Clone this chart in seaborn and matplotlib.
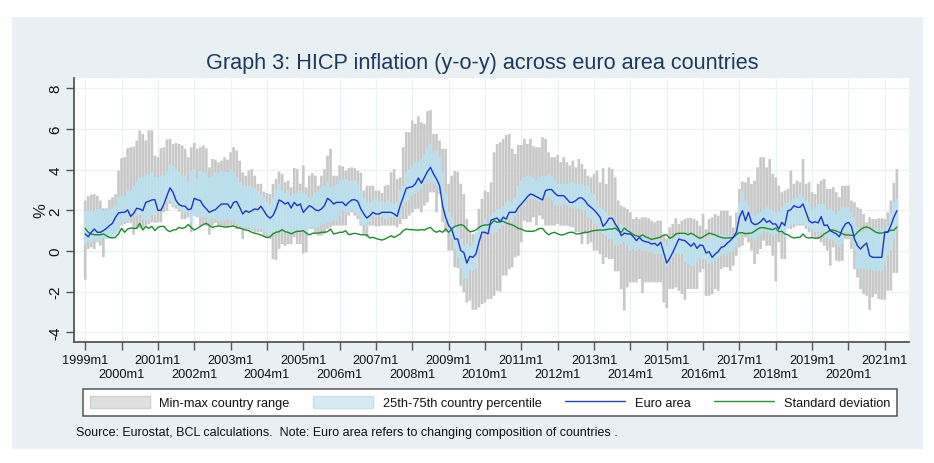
import matplotlib

matplotlib.use("Agg")
import matplotlib.pyplot as plt
import numpy as np
import pandas as pd
import seaborn as sns
from matplotlib.patches import Patch, Rectangle
from matplotlib.lines import Line2D

# monthly values 1999m1 - 2021m5
range_max = [
    2.48, 2.69, 2.77, 2.79, 2.72, 2.48, 2.10, 2.10, 2.52, 2.64, 2.80, 3.95,
    4.56, 4.61, 5.05, 5.10, 5.13, 5.43, 5.92, 5.75, 5.43, 5.93, 5.93, 4.69,
    4.61, 5.05, 5.10, 5.48, 5.51, 5.26, 5.31, 5.26, 5.18, 5.02, 4.61, 5.10,
    5.31, 5.02, 5.10, 5.18, 5.05, 4.11, 4.52, 4.49, 4.36, 4.44, 4.61, 4.49,
    4.85, 5.10, 4.93, 4.44, 3.87, 3.70, 3.95, 4.03, 3.70, 3.30, 3.30, 2.92,
    2.85, 2.80, 3.30, 3.54, 3.90, 3.79, 3.38, 3.46, 3.13, 4.08, 4.03, 3.30,
    4.20, 3.13, 3.70, 3.82, 3.70, 3.21, 3.70, 4.03, 4.69, 5.02, 3.70, 3.70,
    4.20, 4.16, 3.95, 4.07, 4.11, 4.07, 3.95, 3.84, 2.97, 3.21, 3.21, 3.21,
    2.97, 2.97, 2.85, 3.21, 3.25, 3.87, 4.03, 3.54, 3.62, 5.10, 5.84, 5.84,
    6.41, 6.25, 6.62, 6.33, 6.25, 6.87, 6.92, 5.75, 5.75, 5.43, 5.02, 5.02,
    3.30, 3.70, 3.93, 3.90, 3.30, 2.80, 1.57, 0.92, 0.84, 0.75, 2.07, 2.56,
    2.97, 2.89, 3.38, 4.85, 5.26, 5.34, 5.51, 5.70, 5.75, 5.02, 4.77, 5.21,
    5.21, 5.51, 5.26, 5.51, 5.15, 5.10, 5.10, 5.59, 5.51, 4.85, 4.61, 4.61,
    4.72, 4.36, 4.61, 4.36, 4.20, 4.44, 4.11, 4.52, 4.28, 4.03, 3.70, 3.62,
    3.79, 3.95, 3.38, 4.07, 3.30, 4.11, 4.03, 3.62, 2.48, 2.23, 2.15, 2.07,
    1.90, 1.57, 1.66, 1.57, 1.66, 1.66, 1.61, 1.49, 1.41, 1.49, 1.49, 0.75,
    0.59, 1.16, 1.33, 1.61, 1.33, 1.49, 1.57, 1.62, 1.62, 1.57, 1.49, 1.25,
    1.82, 1.08, 1.57, 1.66, 1.82, 1.74, 1.98, 1.98, 1.98, 1.74, 1.16, 1.90,
    3.05, 3.41, 3.38, 3.62, 3.30, 3.46, 4.11, 4.61, 4.61, 4.11, 4.52, 3.79,
    3.62, 3.21, 2.89, 2.97, 3.05, 3.95, 3.30, 3.46, 3.38, 4.52, 3.30, 3.38,
    2.89, 2.80, 3.30, 3.46, 3.54, 3.05, 3.05, 3.13, 2.89, 2.64, 3.21, 3.21,
    3.21, 2.48, 2.39, 2.15, 2.07, 1.82, 1.41, 1.66, 1.57, 1.57, 1.61, 1.61,
    1.57, 1.90, 2.48, 3.34, 4.03,
]
range_min = [
    -1.41, 0.10, 0.18, 0.10, 0.43, 0.26, -0.31, 0.75, 0.92, 0.67, 0.84, 1.08,
    1.25, 1.33, 1.38, 1.38, 0.80, 1.11, 1.11, 1.16, 1.25, 1.33, 1.41, 1.38,
    1.41, 1.41, 1.90, 1.98, 2.31, 2.15, 2.07, 1.93, 1.57, 1.57, 1.66, 0.92,
    1.74, 1.66, 1.25, 1.33, 1.25, 0.80, 1.25, 1.38, 1.25, 1.25, 1.21, 1.16,
    1.25, 1.25, 1.08, 1.08, 0.59, 1.08, 1.05, 1.00, 0.92, 0.92, 0.92, 0.75,
    0.67, 0.59, -0.39, -0.43, 0.10, 0.34, 0.26, 0.34, 0.34, 0.67, 0.34, 0.34,
    -0.12, -0.07, 1.08, 1.08, 0.84, 0.75, 0.75, 0.84, 1.08, 1.16, 1.25, 1.25,
    1.25, 1.25, 1.25, 1.74, 1.90, 1.74, 1.57, 1.25, 0.84, 0.67, 1.25, 1.25,
    1.21, 1.21, 1.25, 1.25, 1.25, 1.25, 1.25, 1.16, 1.33, 1.57, 1.57, 1.74,
    1.90, 2.07, 2.07, 1.90, 2.23, 2.39, 2.88, 2.88, 1.90, 2.80, 1.41, 0.92,
    0.02, 0.02, -0.80, -0.84, -1.71, -2.03, -2.53, -2.44, -2.89, -2.89, -2.77, -2.61,
    -2.53, -2.36, -2.36, -2.20, -1.95, -2.00, -1.21, -1.21, -0.89, -0.80, -0.31, -0.23,
    0.43, 1.49, 1.41, 1.41, 1.66, 1.25, 1.74, 1.57, 1.25, 1.25, 1.25, 1.25,
    1.33, 1.25, 1.25, 1.25, 1.21, 1.16, 0.92, 0.92, 0.34, 0.84, 0.34, 0.43,
    0.02, 0.02, -0.15, -0.64, -0.31, -0.39, -0.39, -1.00, -1.00, -1.87, -2.93, -1.79,
    -1.54, -1.54, -1.54, -1.38, -2.07, -1.54, -1.54, -1.54, -1.54, -1.54, -1.54, -2.53,
    -2.80, -1.87, -1.87, -1.79, -1.95, -2.12, -2.39, -1.87, -1.87, -1.87, -1.87, -1.05,
    -0.89, -2.20, -2.20, -2.12, -1.87, -1.95, -0.89, -0.80, -0.80, -0.97, -0.72, -0.23,
    0.18, 0.26, 0.67, 0.43, 0.02, -0.64, -0.15, 0.10, 0.51, 0.26, 0.26, -0.23,
    -1.49, 0.43, -0.39, -0.39, 1.57, 1.08, 1.16, 1.25, 1.25, 1.25, 1.08, 0.92,
    0.67, 0.59, 0.59, 0.43, 0.26, 0.02, -0.72, 0.18, -0.48, -0.51, -0.48, 0.59,
    0.59, 0.10, -0.89, -1.30, -1.87, -2.12, -2.20, -2.90, -2.28, -2.12, -2.36, -2.39,
    -2.39, -1.95, -1.95, -1.08, -1.08,
]
p75 = [
    1.98, 1.98, 1.98, 1.98, 2.07, 2.07, 1.98, 2.03, 2.07, 2.15, 2.23, 2.64,
    2.72, 2.67, 2.97, 2.97, 3.21, 3.46, 3.62, 3.62, 3.79, 3.79, 3.87, 3.62,
    3.62, 3.70, 3.70, 3.95, 4.28, 4.20, 4.03, 3.87, 3.70, 3.70, 3.38, 3.95,
    4.03, 3.54, 3.95, 3.87, 3.87, 3.62, 3.70, 3.87, 3.87, 3.95, 3.87, 3.87,
    4.03, 3.87, 3.62, 3.38, 3.21, 3.21, 3.21, 3.13, 3.13, 2.97, 2.80, 2.64,
    2.39, 2.31, 2.64, 3.05, 3.30, 2.97, 2.88, 2.97, 2.72, 2.80, 2.88, 2.97,
    2.88, 2.80, 2.64, 2.64, 2.88, 2.97, 3.13, 3.21, 3.38, 3.13, 3.21, 3.30,
    3.46, 3.54, 3.54, 3.46, 3.46, 3.46, 3.30, 2.97, 2.64, 2.39, 2.39, 2.48,
    2.56, 2.48, 2.48, 2.39, 2.48, 2.39, 2.31, 2.39, 2.97, 3.21, 3.87, 4.03,
    4.20, 4.36, 4.36, 4.52, 4.77, 5.10, 5.26, 4.85, 4.93, 4.61, 3.87, 2.88,
    1.90, 1.66, 1.25, 1.16, 0.59, 0.26, 0.34, 0.26, 0.43, 0.92, 1.08, 1.33,
    1.57, 1.25, 1.74, 1.90, 2.07, 2.07, 2.15, 2.39, 2.48, 2.39, 2.64, 3.21,
    3.46, 3.62, 3.70, 3.70, 3.62, 3.46, 3.62, 3.70, 3.70, 3.79, 3.70, 3.46,
    3.30, 3.30, 3.30, 3.30, 3.38, 3.38, 3.30, 3.30, 3.30, 3.21, 3.21, 2.88,
    2.80, 2.48, 2.15, 2.07, 1.90, 1.74, 1.74, 1.25, 1.08, 1.33, 1.25, 1.08,
    0.92, 0.75, 0.67, 0.75, 0.75, 0.75, 0.67, 0.51, 0.59, 0.59, 0.51, 0.43,
    0.26, 0.59, 0.59, 0.75, 0.75, 0.92, 0.84, 0.84, 0.84, 0.75, 0.75, 0.59,
    0.59, 0.59, 0.67, 0.75, 0.75, 0.67, 0.84, 0.75, 0.75, 0.67, 0.67, 1.25,
    2.39, 2.97, 2.48, 2.23, 1.82, 1.74, 1.82, 1.90, 2.07, 2.15, 2.07, 1.98,
    1.90, 1.98, 2.15, 2.39, 2.39, 2.48, 2.56, 2.64, 2.80, 2.64, 2.48, 2.39,
    2.07, 2.15, 2.31, 2.31, 2.31, 2.07, 2.07, 1.98, 1.82, 1.98, 2.15, 2.15,
    2.15, 1.90, 1.66, 1.16, 1.08, 0.92, 1.08, 1.08, 1.08, 1.08, 0.92, 1.08,
    1.00, 1.25, 1.90, 2.39, 2.56,
]
p25 = [
    0.31, 0.43, 0.43, 0.51, 0.46, 0.51, 0.67, 0.59, 0.59, 0.67, 0.75, 0.92,
    1.41, 1.41, 1.41, 1.74, 1.74, 1.74, 1.77, 1.57, 1.49, 1.49, 1.74, 1.74,
    1.98, 2.07, 2.15, 2.39, 2.48, 2.23, 2.23, 2.07, 1.90, 1.90, 1.90, 1.41,
    1.74, 1.74, 1.66, 1.66, 1.66, 1.41, 1.57, 1.57, 1.49, 1.49, 1.49, 1.57,
    1.49, 1.49, 1.33, 1.25, 1.08, 1.16, 1.16, 1.08, 1.08, 1.08, 1.08, 0.92,
    0.84, 0.67, 0.92, 1.00, 1.00, 1.00, 0.92, 0.92, 0.75, 0.92, 0.92, 0.92,
    0.92, 0.84, 1.08, 1.16, 1.08, 1.16, 1.25, 1.33, 1.41, 1.41, 1.49, 1.49,
    1.74, 1.98, 1.90, 1.90, 1.98, 1.90, 1.74, 1.33, 1.25, 1.16, 1.41, 1.74,
    1.66, 1.74, 1.66, 1.57, 1.57, 1.66, 1.66, 1.57, 1.66, 2.23, 2.39, 2.48,
    2.72, 2.80, 2.88, 3.05, 3.30, 3.30, 3.38, 3.30, 3.21, 2.88, 2.07, 1.41,
    0.92, 0.59, 0.10, -0.31, -0.89, -1.38, -1.38, -0.97, -0.97, -0.89, 0.10, 0.75,
    0.84, 0.75, 0.92, 0.92, 0.92, 1.08, 1.25, 1.33, 1.57, 1.41, 1.74, 2.07,
    2.23, 2.23, 2.48, 2.56, 2.56, 2.48, 2.39, 2.56, 2.64, 2.64, 2.48, 2.23,
    2.23, 2.23, 2.31, 2.23, 2.15, 2.15, 2.07, 2.07, 1.98, 1.98, 1.66, 1.57,
    1.33, 1.25, 0.92, 0.84, 0.75, 0.59, 0.59, 0.26, 0.26, 0.34, 0.43, 0.26,
    0.02, 0.10, 0.02, 0.10, 0.02, 0.02, -0.07, -0.07, -0.15, -0.15, -0.15, -0.48,
    -0.72, -0.48, -0.31, -0.15, -0.15, -0.15, -0.56, -0.64, -0.72, -0.72, -0.56, -0.39,
    -0.39, -0.48, -0.64, -0.56, -0.48, -0.39, -0.23, -0.15, -0.15, -0.07, 0.02, 0.26,
    0.67, 0.92, 0.92, 0.84, 0.67, 0.51, 0.67, 0.84, 1.00, 0.92, 0.84, 0.75,
    0.84, 0.92, 0.92, 0.67, 1.08, 1.25, 1.33, 1.33, 1.33, 1.33, 1.25, 1.16,
    1.08, 0.92, 0.92, 0.92, 0.75, 0.67, 0.59, 0.51, 0.34, 0.18, 0.34, 0.92,
    0.92, 0.67, 0.02, -0.89, -0.89, -0.89, -0.97, -0.89, -0.97, -0.97, -0.97, -0.97,
    -0.72, -0.23, 0.02, 0.59, 1.08,
]
euro_area = [
    0.84, 0.70, 0.92, 1.08, 0.92, 0.92, 1.00, 1.11, 1.25, 1.36, 1.66, 1.87,
    1.90, 1.90, 2.02, 1.70, 1.85, 2.10, 2.07, 1.98, 2.39, 2.44, 2.51, 2.52,
    2.00, 2.00, 2.31, 2.72, 3.10, 2.88, 2.48, 2.28, 2.21, 2.20, 2.03, 2.07,
    2.59, 2.52, 2.48, 2.23, 2.07, 1.90, 1.98, 2.03, 2.18, 2.31, 2.31, 2.31,
    2.10, 2.39, 2.43, 2.15, 1.82, 1.98, 1.90, 1.98, 2.07, 2.03, 2.20, 1.98,
    1.74, 1.61, 1.74, 2.07, 2.51, 2.43, 2.31, 2.39, 2.11, 2.39, 2.23, 2.31,
    1.90, 2.07, 2.23, 2.15, 2.02, 1.98, 2.07, 2.23, 2.59, 2.48, 2.31, 2.39,
    2.39, 2.39, 2.23, 2.39, 2.51, 2.52, 2.44, 2.07, 1.82, 1.62, 1.74, 1.90,
    1.82, 1.82, 1.90, 1.90, 1.90, 1.90, 1.82, 1.70, 2.23, 2.64, 3.08, 3.13,
    3.16, 3.30, 3.59, 3.33, 3.62, 3.90, 4.11, 3.79, 3.54, 3.21, 2.23, 1.66,
    1.25, 1.08, 0.59, 0.59, 0.02, -0.07, -0.59, -0.26, -0.31, -0.15, 0.43, 0.92,
    0.92, 0.84, 1.52, 1.57, 1.62, 1.44, 1.66, 1.57, 1.90, 1.90, 1.90, 2.15,
    2.31, 2.48, 2.67, 2.80, 2.75, 2.67, 2.59, 2.51, 2.97, 3.02, 3.02, 2.85,
    2.72, 2.72, 2.72, 2.56, 2.39, 2.39, 2.48, 2.61, 2.61, 2.48, 2.26, 2.15,
    2.02, 1.85, 1.66, 1.21, 1.38, 1.61, 1.61, 1.33, 1.11, 0.75, 0.88, 0.84,
    0.84, 0.70, 0.51, 0.67, 0.51, 0.46, 0.43, 0.34, 0.38, 0.26, 0.43, -0.07,
    -0.59, -0.36, -0.07, 0.26, 0.59, 0.54, 0.51, 0.38, 0.23, 0.39, 0.13, 0.30,
    0.26, -0.10, -0.03, -0.31, -0.15, -0.03, 0.18, 0.23, 0.39, 0.51, 0.67, 0.92,
    1.66, 1.98, 1.49, 1.90, 1.41, 1.30, 1.33, 1.44, 1.61, 1.41, 1.49, 1.33,
    1.33, 1.08, 1.41, 1.25, 1.98, 2.03, 2.23, 2.15, 2.15, 2.31, 1.90, 1.49,
    1.38, 1.44, 1.38, 1.69, 1.25, 1.28, 1.00, 0.92, 0.84, 0.70, 1.08, 1.33,
    1.41, 1.21, 0.59, 0.26, 0.10, 0.26, 0.39, -0.23, -0.31, -0.31, -0.31, -0.31,
    0.92, 0.92, 1.25, 1.66, 1.98,
]
std_dev = [
    1.11, 0.92, 0.84, 0.80, 0.80, 0.80, 0.84, 0.75, 0.67, 0.64, 0.67, 0.84,
    1.11, 0.92, 1.08, 1.13, 1.11, 1.11, 1.36, 1.03, 1.21, 1.11, 1.21, 1.00,
    1.16, 1.21, 1.21, 1.03, 0.95, 1.03, 1.05, 1.16, 1.11, 1.16, 1.30, 1.16,
    1.03, 1.11, 1.21, 1.30, 1.36, 1.25, 1.16, 1.21, 1.23, 1.21, 1.18, 1.18,
    1.21, 1.23, 1.16, 1.13, 1.08, 1.03, 1.00, 0.92, 0.87, 0.84, 0.79, 0.72,
    0.66, 0.69, 0.84, 0.92, 0.95, 1.05, 0.95, 0.92, 0.84, 0.92, 0.97, 0.97,
    1.00, 0.88, 0.79, 0.87, 0.88, 0.88, 0.92, 0.92, 0.95, 1.08, 0.84, 0.87,
    0.92, 0.92, 1.00, 0.80, 0.84, 0.87, 0.84, 0.80, 0.80, 0.79, 0.64, 0.67,
    0.62, 0.57, 0.54, 0.59, 0.67, 0.75, 0.67, 0.75, 0.84, 1.00, 1.08, 1.05,
    1.05, 1.03, 1.03, 1.05, 1.03, 1.11, 1.16, 1.00, 0.92, 1.00, 0.92, 1.08,
    0.92, 1.08, 1.21, 1.25, 1.30, 1.25, 1.08, 0.95, 0.97, 1.03, 1.16, 1.25,
    1.28, 1.28, 1.33, 1.49, 1.41, 1.44, 1.46, 1.38, 1.33, 1.28, 1.21, 1.11,
    1.08, 1.00, 0.97, 0.97, 0.97, 1.03, 1.11, 1.11, 0.92, 0.80, 0.88, 0.92,
    0.84, 0.79, 0.80, 0.87, 0.92, 0.92, 0.84, 0.84, 0.88, 0.92, 0.92, 0.97,
    1.00, 1.02, 1.03, 1.03, 1.05, 1.08, 1.08, 1.13, 1.00, 0.92, 1.13, 1.00,
    0.92, 0.80, 0.75, 0.70, 0.79, 0.70, 0.64, 0.57, 0.61, 0.64, 0.69, 0.79,
    0.79, 0.62, 0.70, 0.84, 0.87, 0.87, 0.87, 0.80, 0.87, 0.80, 0.70, 0.62,
    0.70, 0.79, 0.88, 0.84, 0.79, 0.72, 0.67, 0.64, 0.64, 0.64, 0.67, 0.80,
    0.90, 0.90, 0.85, 0.87, 0.88, 0.97, 1.08, 1.15, 1.15, 1.11, 1.08, 1.05,
    1.13, 0.95, 0.97, 0.84, 0.80, 0.70, 0.64, 0.67, 0.67, 0.84, 0.67, 0.64,
    0.66, 0.62, 0.64, 0.70, 0.84, 0.92, 1.03, 1.03, 0.98, 0.92, 0.85, 0.79,
    0.79, 0.77, 0.75, 0.92, 1.05, 1.15, 1.18, 1.13, 1.03, 0.93, 0.88, 0.88,
    0.93, 0.95, 1.02, 1.02, 1.18,
]
years = list(range(1999, 2022))
y_ticks = [-4, -2, 0, 2, 4, 6, 8]

BG = "#e8f0f3"
GRID = "#eaf2f3"
FONT = "Liberation Sans"

sns.set_theme(style="white")
plt.rcParams["font.family"] = [FONT, "DejaVu Sans"]

df = pd.DataFrame(
    {
        "month": np.arange(len(euro_area)),
        "Euro area": euro_area,
        "Standard deviation": std_dev,
    }
)
lines = df.melt(id_vars="month", var_name="series", value_name="value")

fig = plt.figure(figsize=(9.34, 4.64), dpi=100, facecolor="white")
# pale panel behind everything, Stata s2color style
fig.add_artist(
    Rectangle((12 / 934, 1 - 450 / 464), 911 / 934, 432 / 464, color=BG, lw=0, zorder=-5)
)
ax = fig.add_axes([74 / 934, 1 - 343 / 464, 835 / 934, 264 / 464])
ax.set_facecolor("white")

gray_bars = ax.bar(
    df["month"],
    np.array(range_max) - np.array(range_min),
    bottom=range_min,
    width=0.88,
    color="#c8c8c8",
    linewidth=0,
    zorder=2,
)
blue_bars = ax.bar(
    df["month"],
    np.array(p75) - np.array(p25),
    bottom=p25,
    width=0.88,
    color="#b8e0ee",
    linewidth=0,
    zorder=3,
)
# no snapping, else the thin bars come out with uneven widths
for bar in list(gray_bars) + list(blue_bars):
    bar.set_snap(False)

sns.lineplot(
    data=lines,
    x="month",
    y="value",
    hue="series",
    hue_order=["Standard deviation", "Euro area"],
    palette={"Euro area": "#1a35c8", "Standard deviation": "#1f8a2e"},
    estimator=None,
    linewidth=1.0,
    legend=False,
    ax=ax,
    zorder=4,
)

ax.set_xlim(-3.7, 272)
ax.set_ylim(-4.47, 8.5)
ax.set_xlabel("")
ax.set_ylabel("%", fontsize=12, color="#222222", labelpad=0)

tick_pos = [(y - 1999) * 12 for y in years]
tick_labels = [f"{y}m1" for y in years]
ax.set_xticks(tick_pos)
ax.set_xticklabels(tick_labels, fontsize=9.2, color="#111111")
ax.set_yticks(y_ticks)
ax.set_yticklabels(y_ticks, rotation=90, va="center", fontsize=11, color="#111111")
ax.tick_params(axis="both", length=5.5, width=1.0, color="#555555", bottom=True, left=True)
ax.tick_params(axis="y", pad=3)
# two rows of year labels, every other one pushed down
for i, tick in enumerate(ax.xaxis.get_major_ticks()):
    tick.set_pad(3 if i % 2 == 0 else 13.5)
ax.grid(True, color=GRID, linewidth=0.9, zorder=0)
ax.set_axisbelow(True)
sns.despine(ax=ax)
for side in ("left", "bottom"):
    ax.spines[side].set_color("#555555")
    ax.spines[side].set_linewidth(1.3)

fig.text(
    482.5 / 934,
    1 - 63.5 / 464,
    "Graph 3: HICP inflation (y-o-y) across euro area countries",
    ha="center",
    va="center",
    fontsize=15.6,
    color="#1c3a5e",
)

handles = [
    Patch(facecolor="#e0e0e0", edgecolor="#cfcfcf", label="Min-max country range"),
    Patch(facecolor="#d5eaf2", edgecolor="#c5e2ec", label="25th-75th country percentile"),
    Line2D([], [], color="#2a3fc0", lw=1.0, label="Euro area"),
    Line2D([], [], color="#2f8f3c", lw=1.0, label="Standard deviation"),
]
leg = fig.legend(
    handles=handles,
    ncol=4,
    loc="center",
    bbox_to_anchor=(490 / 934, 1 - 403.5 / 464),
    frameon=True,
    fancybox=False,
    fontsize=9.2,
    handlelength=4.7,
    handleheight=1.15,
    handletextpad=0.75,
    columnspacing=1.85,
    borderpad=0.55,
    labelcolor="#111111",
)
leg.get_frame().set_facecolor("white")
leg.get_frame().set_edgecolor("#555555")
leg.get_frame().set_linewidth(1.1)
leg.get_frame().set_alpha(1)

fig.text(
    76 / 934,
    1 - 433 / 464,
    "Source: Eurostat, BCL calculations.  Note: Euro area refers to changing composition of countries .",
    ha="left",
    va="center",
    fontsize=9.03,
    color="#111111",
)

fig.savefig("out.png", dpi=100, facecolor="white")
